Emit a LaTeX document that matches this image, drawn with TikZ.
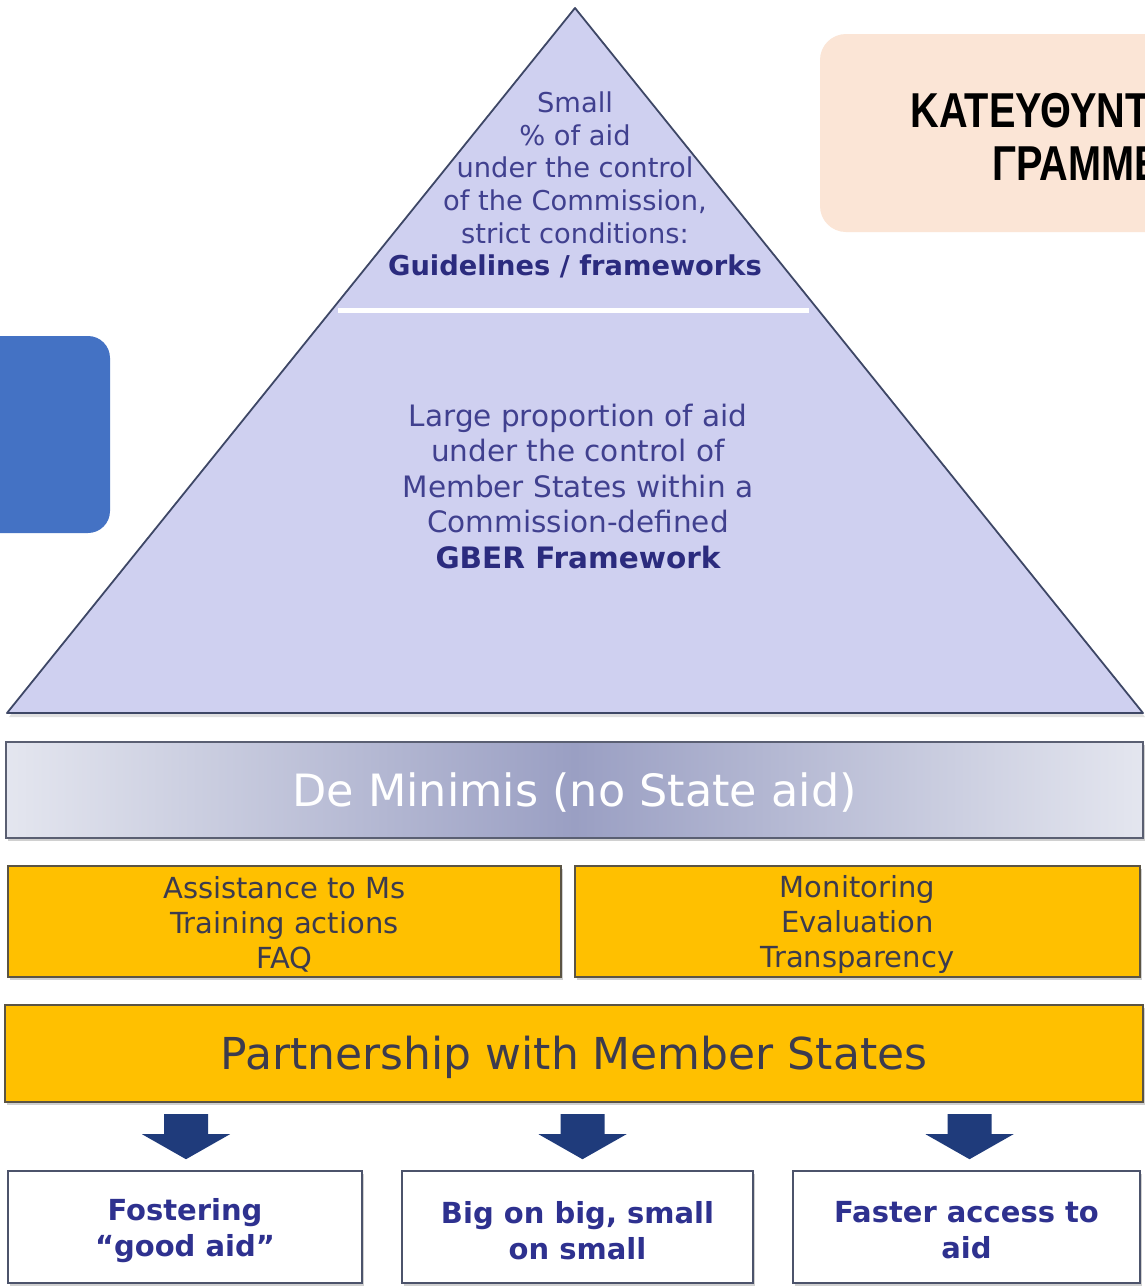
\documentclass[tikz,border=0pt]{standalone}
\usepackage{fontspec}
\setmainfont{DejaVu Sans}
\newfontfamily\grkfont[FakeStretch=0.81]{Liberation Sans}
\usetikzlibrary{calc,shadows}
\definecolor{trifill}{HTML}{CFD0F0}
\definecolor{tristroke}{HTML}{3E4766}
\definecolor{tritext}{HTML}{40408F}
\definecolor{tribold}{HTML}{2B2B7E}
\definecolor{bluebox}{HTML}{4472C4}
\definecolor{peach}{HTML}{FBE5D6}
\definecolor{dmedge}{HTML}{E4E6EF}
\definecolor{dmmid}{HTML}{9A9FC3}
\definecolor{dmborder}{HTML}{5A5F72}
\definecolor{yel}{HTML}{FFC000}
\definecolor{yelborder}{HTML}{5B5444}
\definecolor{yeltext}{HTML}{3C3B4E}
\definecolor{navy}{HTML}{1F3B7B}
\definecolor{fborder}{HTML}{4C536B}
\definecolor{ftext}{HTML}{2E318F}
\definecolor{glow}{HTML}{DCE1EE}
\pgfdeclareverticalshading{topglow}{100bp}{color(0bp)=(white); color(82bp)=(white); color(96bp)=(glow); color(100bp)=(glow)}
\begin{document}
\begin{tikzpicture}[x=1pt,y=-1pt,
  shad/.style={drop shadow={shadow xshift=2pt, shadow yshift=-3pt, opacity=0.3, fill=black!60}},
  dmbox/.style={draw=dmborder, line width=1.6pt, left color=dmedge, right color=dmedge, middle color=dmmid,
     minimum width=1137pt, minimum height=96pt, inner sep=0pt, shad},
  dmtext/.style={inner sep=0pt, text=white, font=\fontsize{44.5}{50}\selectfont},
  ybox/.style={draw=yelborder, fill=yel, line width=1.6pt, minimum height=111pt, inner sep=0pt, shad},
  ytext/.style={inner sep=0pt, text=yeltext, align=center, font=\fontsize{29}{35}\selectfont},
  pbox/.style={draw=yelborder, fill=yel, line width=1.6pt, minimum width=1138pt, minimum height=97pt, inner sep=0pt, shad},
  ptext/.style={inner sep=0pt, text=yeltext, font=\fontsize{44}{50}\selectfont},
  fbox/.style={draw=fborder, line width=1.6pt, shade, shading=topglow, minimum height=112pt, inner sep=0pt, shad},
  ftextstyle/.style={inner sep=0pt, text=ftext, align=center, font=\bfseries\fontsize{29}{36}\selectfont},
  blockarr/.pic={\fill[navy] (-22,0) -- (22,0) -- (22,20) -- (44,20) -- (0,45) -- (-44,20) -- (-22,20) -- cycle;}
]
\useasboundingbox (0,0) rectangle (1145,1286);
\clip (0,0) rectangle (1145,1286);
\fill[white] (0,0) rectangle (1145,1286);

% peach title box
\fill[peach, rounded corners=26pt] (820,34) rectangle (1220,232);
\node[font=\grkfont\bfseries\fontsize{49}{53}\selectfont, align=center, inner sep=0pt] (title) at (1088.5,137)
  {ΚΑΤΕΥΘΥΝΤΗΡΙΕΣ\\ΓΡΑΜΜΕΣ};

% blue box
\fill[bluebox, rounded corners=22pt] (-60,336) rectangle (110,533);

% pyramid
\fill[black, opacity=0.12] (575,12) -- (1145,717) -- (9,717) -- cycle;
\fill[trifill, draw=tristroke, line width=1.8pt, line join=round] (575,8) -- (1143,713) -- (7,713) -- cycle;
\draw[white, line width=5pt] (338,310) -- (809,310);

\node[font=\fontsize{27.3}{32.6}\selectfont, text=tritext, align=center, inner sep=0pt] (top) at (575,185)
  {Small\\\% of aid\\under the control\\of the Commission,\\strict conditions:\\\textbf{\color{tribold}Guidelines / frameworks}};
\node[font=\fontsize{29.5}{35.5}\selectfont, text=tritext, align=center, inner sep=0pt] (mid) at (578,486)
  {Large proportion of aid\\under the control of\\Member States within a\\Commission-defined\\\textbf{\color{tribold}GBER Framework}};

% De Minimis band
\node[dmbox] (dm) at (574.5,790) {};
\node[dmtext] (dmT) at ($(dm.center)+(0,3)$) {De Minimis (no State aid)};

% yellow boxes
\node[ybox, minimum width=553pt] (assist) at (284.5,921.5) {};
\node[ytext] (assistT) at ($(assist.center)+(0,2.5)$) {Assistance to Ms\\Training actions\\FAQ};
\node[ybox, minimum width=565pt] (monit) at (857.5,921.5) {};
\node[ytext] (monitT) at ($(monit.center)+(0,2.5)$) {Monitoring\\Evaluation\\Transparency};
\node[pbox] (part) at (574,1053.5) {};
\node[ptext] (partT) at ($(part.center)+(0,4)$) {Partnership with Member States};

% bottom boxes
\node[fbox, minimum width=354pt] (f1) at (185,1227) {};
\node[ftextstyle] (f1T) at ($(f1.center)+(0,3.5)$) {Fostering\\“good aid”};
\node[fbox, minimum width=351pt] (f2) at (577.5,1227) {};
\node[ftextstyle] (f2T) at ($(f2.center)+(0,3.5)$) {Big on big, small\\on small};
\node[fbox, minimum width=347pt] (f3) at (966.5,1227) {};
\node[ftextstyle] (f3T) at ($(f3.center)+(0,3.5)$) {Faster access to\\aid};

% arrows from the partnership band to the three outcome boxes
\pic at ($(f1.north)+(1,-56)$) {blockarr};
\pic at ($(f2.north)+(5,-56)$) {blockarr};
\pic at ($(f3.north)+(3,-56)$) {blockarr};
\end{tikzpicture}
\end{document}
